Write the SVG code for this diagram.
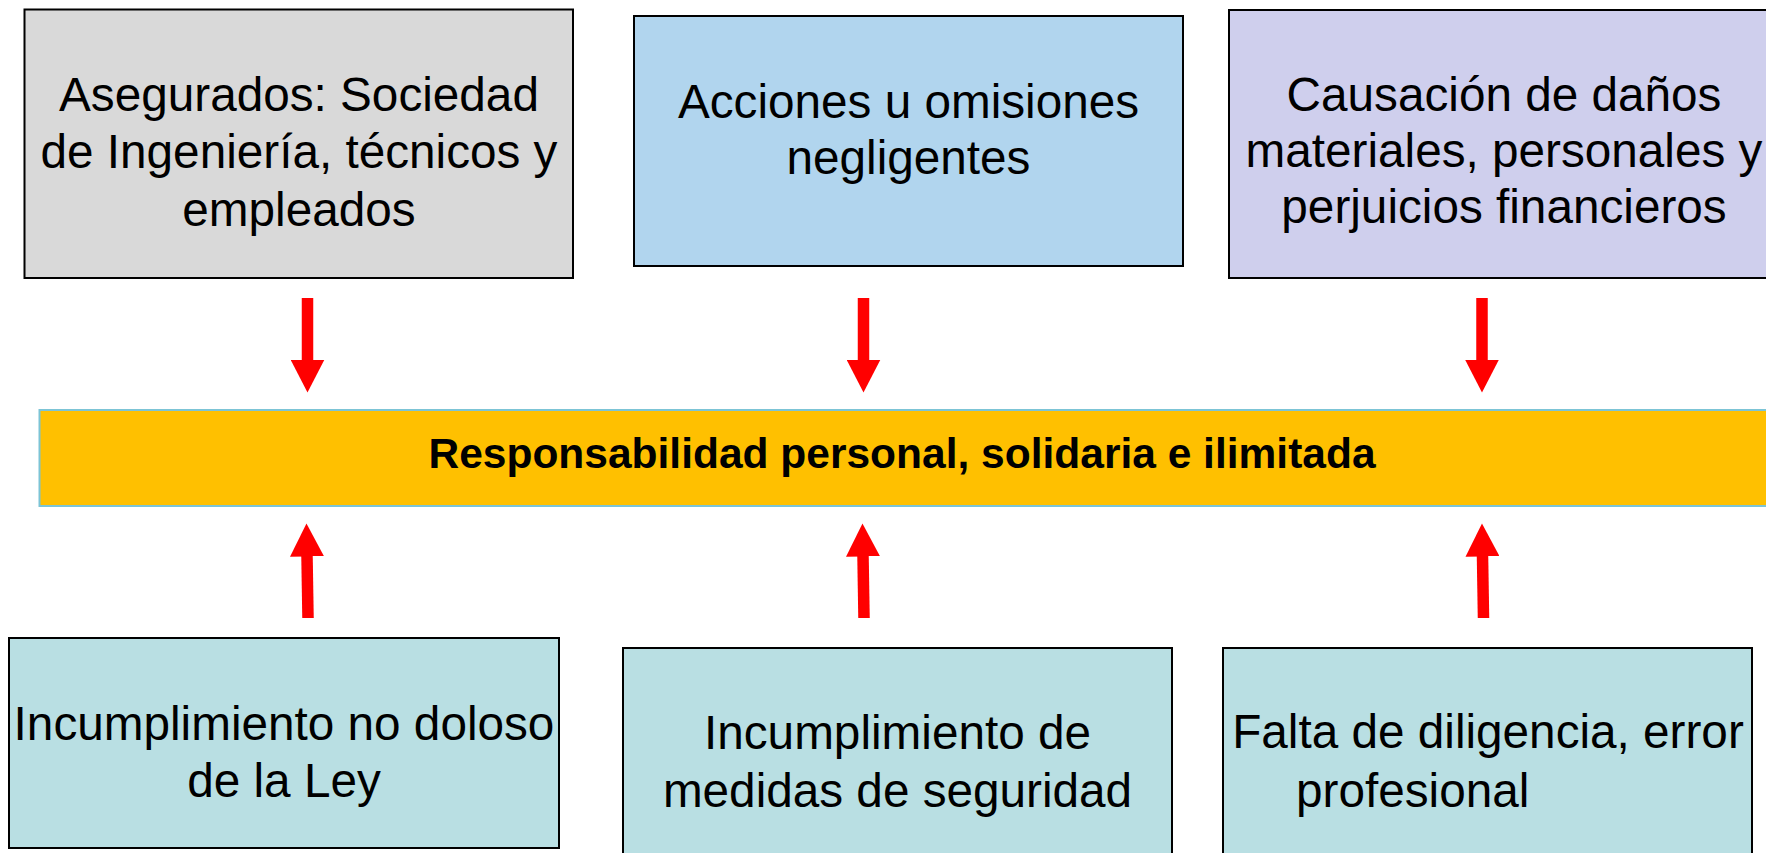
<svg xmlns="http://www.w3.org/2000/svg" width="1766" height="853" viewBox="0 0 1766 853">
<style>
.box{stroke:#000;stroke-width:2}
.t{font-family:"Liberation Sans",Arial,sans-serif;font-size:47.7px;fill:#000}
.c{text-anchor:middle}
.b{font-family:"Liberation Sans",Arial,sans-serif;font-size:42.5px;font-weight:bold;fill:#000;text-anchor:middle}
.arr{stroke:#ff0000;stroke-width:11.5;fill:none;marker-end:url(#ah)}
</style>
<defs>
<marker id="ah" viewBox="0 0 33 34" refX="0.5" refY="17" markerWidth="33" markerHeight="34" markerUnits="userSpaceOnUse" orient="auto">
<path d="M0,0 L33,17 L0,34 z" fill="#ff0000"/>
</marker>
</defs>
<rect width="1766" height="853" fill="#ffffff"/>
<g id="asegurados">
<rect class="box" x="24.5" y="9.5" width="548.5" height="268.5" fill="#d9d9d9"/>
<text class="t c" x="299" y="111">Asegurados: Sociedad</text>
<text class="t c" x="299" y="168">de Ingeniería, técnicos y</text>
<text class="t c" x="299" y="226">empleados</text>
</g>
<g id="acciones">
<rect class="box" x="634" y="16" width="549" height="250" fill="#b1d5ee"/>
<text class="t c" x="908.5" y="117.5">Acciones u omisiones</text>
<text class="t c" x="908.5" y="174">negligentes</text>
</g>
<g id="causacion">
<rect class="box" x="1229" y="10" width="549" height="268" fill="#cfcfed"/>
<text class="t c" x="1504" y="111">Causación de daños</text>
<text class="t c" x="1504" y="167">materiales, personales y</text>
<text class="t c" x="1504" y="223">perjuicios financieros</text>
</g>
<g id="responsabilidad">
<rect x="39.5" y="410" width="1740" height="96" fill="#ffc000" stroke="#7cc4d6" stroke-width="2"/>
<text class="b" x="902" y="468">Responsabilidad personal, solidaria e ilimitada</text>
</g>
<g id="incumplimiento-ley">
<rect class="box" x="9" y="638" width="550" height="210" fill="#b9dfe3"/>
<text class="t c" x="284" y="740">Incumplimiento no doloso</text>
<text class="t c" x="284" y="797">de la Ley</text>
</g>
<g id="incumplimiento-medidas">
<rect class="box" x="623" y="648" width="549" height="215" fill="#b9dfe3"/>
<text class="t c" x="897.5" y="749">Incumplimiento de</text>
<text class="t c" x="897.5" y="807">medidas de seguridad</text>
</g>
<g id="falta-diligencia">
<rect class="box" x="1223" y="648" width="529" height="215" fill="#b9dfe3"/>
<text class="t c" x="1488" y="748">Falta de diligencia, error</text>
<text class="t" x="1296" y="807">profesional</text>
</g>
<g id="connectors">
<path class="arr" d="M307.5,298 L307.5,360"/>
<path class="arr" d="M863.5,298 L863.5,360"/>
<path class="arr" d="M1482,298 L1482,360"/>
<path class="arr" d="M308,618 L307,556"/>
<path class="arr" d="M864,618 L863,556"/>
<path class="arr" d="M1483.5,618 L1482.5,556"/>
</g>
</svg>
